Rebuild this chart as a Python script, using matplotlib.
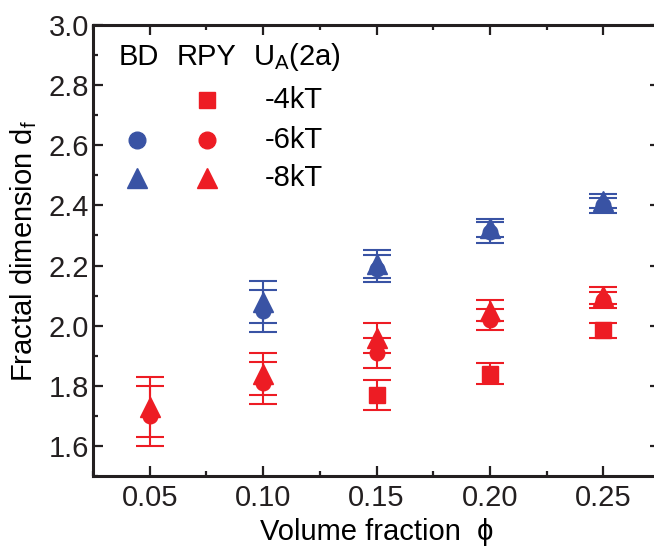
import numpy as np
import matplotlib
matplotlib.use("Agg")
import matplotlib.pyplot as plt
from matplotlib.ticker import MultipleLocator, FormatStrFormatter

plt.rcParams['font.family'] = ['Liberation Sans', 'DejaVu Sans']
FS = 21

# volume fractions
phi = [0.05, 0.10, 0.15, 0.20, 0.25]

# RPY runs (red)
rpy_4kT = [np.nan, np.nan, 1.77, 1.84, 1.985]
rpy_4kT_err = [np.nan, np.nan, 0.05, 0.035, 0.025]
rpy_6kT = [1.70, 1.81, 1.91, 2.02, 2.085]
rpy_6kT_err = [0.10, 0.07, 0.05, 0.035, 0.027]
rpy_8kT = [1.73, 1.84, 1.96, 2.05, 2.10]
rpy_8kT_err = [0.10, 0.07, 0.05, 0.035, 0.027]

# BD runs (blue)
bd_6kT = [np.nan, 2.05, 2.19, 2.31, 2.40]
bd_6kT_err = [np.nan, 0.07, 0.045, 0.035, 0.025]
bd_8kT = [np.nan, 2.08, 2.205, 2.325, 2.415]
bd_8kT_err = [np.nan, 0.07, 0.045, 0.03, 0.022]

BLUE = "#3953a4"
RED = "#ed1c24"
MS = {"s": 11, "o": 10.5, "^": 14}
MS_KEY = {"s": 11, "o": 12, "^": 14}

fig = plt.figure(figsize=(6.54, 5.47), dpi=100)
ax = fig.add_axes([0.1422, 0.1298, 0.867, 0.8245])

def draw(y, err, color, marker):
    ax.errorbar(phi, y, yerr=err, fmt=marker, color=color, ms=MS[marker],
                ecolor=color, elinewidth=1.5, capsize=10, capthick=1.5,
                mec=color, mfc=color)

draw(rpy_4kT, rpy_4kT_err, RED, "s")
draw(rpy_6kT, rpy_6kT_err, RED, "o")
draw(rpy_8kT, rpy_8kT_err, RED, "^")
draw(bd_6kT, bd_6kT_err, BLUE, "o")
draw(bd_8kT, bd_8kT_err, BLUE, "^")

ax.set_xlim(0.025, 0.275)
ax.set_ylim(1.5, 3.0)
ax.xaxis.set_minor_locator(MultipleLocator(0.025))
ax.yaxis.set_major_locator(MultipleLocator(0.2))
ax.yaxis.set_minor_locator(MultipleLocator(0.1))
ax.set_xticks(phi)
ax.set_xticklabels(["0.05", "0.10", "0.15", "0.20", "0.25"])
ax.yaxis.set_major_formatter(FormatStrFormatter("%.1f"))

ax.tick_params(which="both", direction="in", top=True, right=True,
               labelsize=FS, width=1.6, colors="#231f20")
ax.tick_params(which="major", length=7)
ax.tick_params(axis="x", which="major", pad=6)
ax.tick_params(axis="y", which="major", pad=3)
ax.tick_params(which="minor", length=3.5)
for s in ax.spines.values():
    s.set_linewidth(2.2)
    s.set_color("#231f20")

ax.set_xlabel("Volume fraction  ϕ", fontsize=FS, labelpad=4)
ax.set_ylabel("Fractal dimension d$_\\mathregular{f}$", fontsize=FS, labelpad=7)

# hand-made legend inside the axes, positioned in pixels
def to_data(px, py):
    x = 0.025 + (px - 93) / 113.5 * 0.05
    y = 3.0 - (py - 25) / 300.7
    return x, y

hdr_y = to_data(0, 57)[1]
ax.text(to_data(139, 0)[0], hdr_y, "BD", fontsize=FS, ha="center", va="center")
ax.text(to_data(207, 0)[0], hdr_y, "RPY", fontsize=FS, ha="center", va="center")
ax.text(to_data(253, 0)[0], hdr_y, "U$_\\mathregular{A}$(2a)", fontsize=FS, ha="left", va="center")

rows = [(100, None, "s", "-4kT"), (140, "o", "o", "-6kT"), (178, "^", "^", "-8kT")]
for py, bd_m, rpy_m, lab in rows:
    _, yy = to_data(0, py)
    if bd_m:
        ax.plot(to_data(137, 0)[0], yy, bd_m, color=BLUE, ms=MS_KEY[bd_m])
    ax.plot(to_data(207, 0)[0], yy, rpy_m, color=RED, ms=MS_KEY[rpy_m])
    ax.text(to_data(265, 0)[0], yy, lab, fontsize=FS, ha="left", va="center")

fig.savefig("out.png", dpi=100)
